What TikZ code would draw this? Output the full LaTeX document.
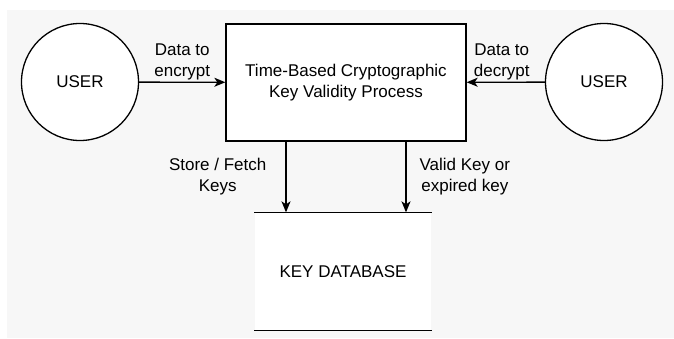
\documentclass[tikz,border=0pt]{standalone}
\usepackage{fontspec}
\setmainfont{Liberation Sans}
\usetikzlibrary{arrows.meta}
\definecolor{bggray}{HTML}{F7F7F7}

\begin{document}
\begin{tikzpicture}[x=1pt, y=1pt, line width=1.3pt,
  txt/.style = {font=\fontsize{17}{21}\selectfont, align=center, inner sep=1pt},
  user/.style = {txt, circle, draw, fill=white, minimum size=117pt},
  proc/.style = {txt, rectangle, draw, fill=white, minimum width=240pt, minimum height=117pt},
  store/.style = {txt, rectangle, fill=white, minimum width=176pt, minimum height=117pt},
  flow/.style = {-{Stealth[length=11pt, width=9pt, inset=3pt]}}]
\useasboundingbox (0,0) rectangle (674,338);
\fill[bggray] (7,0) rectangle (674,328);

\node[user] (u1) at (80,256) {USER};
\node[proc] (p) at (346,255.5) {Time-Based Cryptographic\\Key Validity Process};
\node[user] (u2) at (604,256) {USER};
\node[store] (db) at (343,66.5) {KEY DATABASE};
\draw (db.north west) -- (db.north east);
\draw (db.south west) -- (db.south east);

\draw[flow] (u1) -- (p) node[txt, midway, above=1pt] (l1) {Data to\\encrypt};
\draw[flow] (u2) -- (p) node[txt, midway, above=1pt, xshift=-4pt] (l2) {Data to\\decrypt};
\draw[flow] (p.south -| 286,0) -- (db.north -| 286,0) node[txt, midway, left=18pt] (l3) {Store / Fetch\\Keys};
\draw[flow] (p.south -| 406,0) -- (db.north -| 406,0) node[txt, midway, right=12pt] (l4) {Valid Key or\\expired key};
\end{tikzpicture}
\end{document}
